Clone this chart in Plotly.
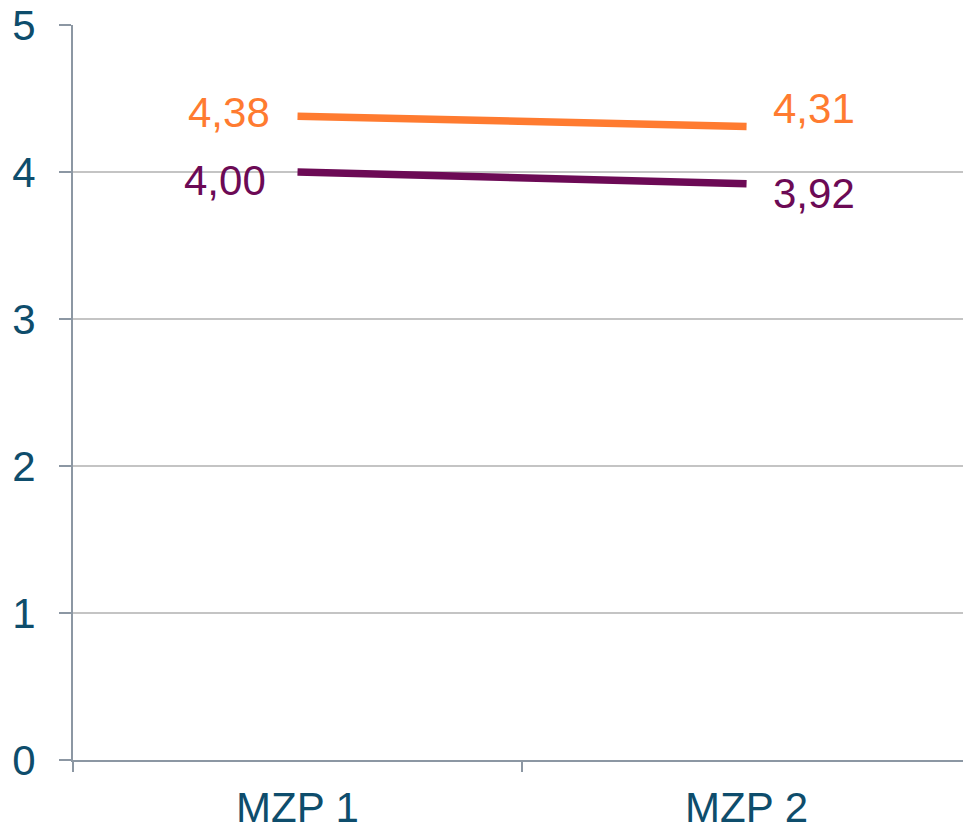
import plotly.graph_objects as go

categories = ["MZP 1", "MZP 2"]
series_orange = [4.38, 4.31]
series_purple = [4.00, 3.92]

ORANGE = "#FF7B30"
PURPLE = "#6C0A55"
AXIS_TXT = "#0E4D6C"
AXIS_LINE = "#8C97A3"
GRID = "#C4C4C4"
FONT = "Liberation Sans, Arial, sans-serif"
FS = 42

fig = go.Figure()
xs = list(range(len(categories)))
for vals, col in [(series_purple, PURPLE), (series_orange, ORANGE)]:
    fig.add_trace(go.Scatter(x=xs, y=vals, mode="lines",
                             line=dict(color=col, width=7.5),
                             hoverinfo="skip", showlegend=False))

def fmt(v):
    return f"{v:.2f}".replace(".", ",")

label_specs = [
    (series_orange, ORANGE, [("right", -26, 4), ("left", 24, 18)]),
    (series_purple, PURPLE, [("right", -30, -8), ("left", 24, -10)]),
]
for vals, col, specs in label_specs:
    for i, (v, (anc, xs_, ys_)) in enumerate(zip(vals, specs)):
        fig.add_annotation(x=i, y=v, text=fmt(v), showarrow=False,
                           xanchor=anc, yanchor="middle", xshift=xs_, yshift=ys_,
                           font=dict(size=FS, color=col, family=FONT))

fig.update_layout(
    width=963, height=826,
    margin=dict(l=73, r=0, t=25, b=66, autoexpand=False),
    paper_bgcolor="white", plot_bgcolor="white",
    font=dict(family=FONT, size=FS, color=AXIS_TXT),
)
fig.update_xaxes(
    type="linear", range=[-0.5, 1.482], automargin=False,
    tickmode="array", tickvals=xs, ticktext=categories,
    ticks="", showgrid=False, showline=True, linecolor=AXIS_LINE, linewidth=2,
    zeroline=False, ticklabelstandoff=10, ticklabeloverflow="allow",
    tickfont=dict(size=FS, color=AXIS_TXT, family=FONT),
    minor=dict(tickmode="array", tickvals=[-0.5, 0.5, 1.5],
               ticks="outside", ticklen=10, tickcolor=AXIS_LINE, tickwidth=2,
               showgrid=False),
)
fig.update_yaxes(
    range=[0, 5], tickmode="array", tickvals=[0, 1, 2, 3, 4, 5], automargin=False,
    ticks="outside", ticklen=12, tickcolor=AXIS_LINE, tickwidth=2,
    showline=True, linecolor=AXIS_LINE, linewidth=2,
    showgrid=True, gridcolor=GRID, gridwidth=1.5, zeroline=False,
    ticklabelstandoff=15, ticklabeloverflow="allow",
    tickfont=dict(size=FS, color=AXIS_TXT, family=FONT),
)

fig.write_html(
    "out.html",
    config={"displayModeBar": False, "staticPlot": True},
    post_script=("document.body.style.margin='0';"
                 "document.body.style.overflow='hidden';"
                 "document.documentElement.style.overflow='hidden';"),
)
